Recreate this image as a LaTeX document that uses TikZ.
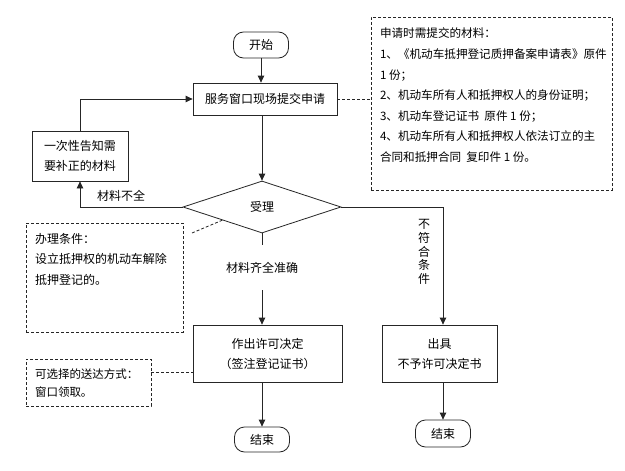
\documentclass[tikz,border=0pt]{standalone}
\usepackage{fontspec}
\setmainfont{Noto Sans CJK SC}
\usetikzlibrary{arrows.meta,shapes.geometric}
\begin{document}
\begin{tikzpicture}[x=1pt,y=-1pt, line width=0.8pt, draw=black!85,
  font=\fontsize{12}{20}\selectfont,
  box/.style={draw, rectangle, inner sep=0pt, align=center},
  term/.style={draw, rounded corners=10pt, minimum width=55pt, minimum height=26pt, inner sep=0pt},
  arr/.style={-{Triangle[length=7pt,width=6.5pt]}},
  note/.style={draw, dash pattern=on 3pt off 2pt, inner sep=0pt},
  ntext/.style={anchor=north west, align=left, inner sep=0pt},
  dline/.style={dash pattern=on 3pt off 2pt}]
\useasboundingbox[fill=white] (0,0) rectangle (625,471);

% terminals and boxes
\node[term] (start) at (261,45) {开始};
\node[box, minimum width=144pt, minimum height=32pt] (svc) at (265,99) {服务窗口现场提交申请};
\node[box, minimum width=96pt, minimum height=50pt] (fix) at (80,156) {一次性告知需\\要补正的材料};
\node[draw, diamond, aspect=3.04, minimum width=158pt, minimum height=52pt, inner sep=0pt] (dec) at (262,207) {受理};
\node[box, minimum width=149pt, minimum height=57pt] (permit) at (267.5,353.5) {作出许可决定\\（签注登记证书）};
\node[box, minimum width=115pt, minimum height=57pt] (deny) at (439.5,353.5) {出具\\不予许可决定书};
\node[term, minimum height=25pt] (end1) at (262,439.5) {结束};
\node[term, minimum height=27pt] (end2) at (443,433.5) {结束};

% labels
\node[inner sep=0pt] (lack) at (121,196) {材料不全};
\node[inner sep=0pt, align=center, font=\fontsize{12}{13.75}\selectfont] (bad) at (424,252) {不\\符\\合\\条\\件};
\node[minimum height=45pt, inner sep=0pt] (ok) at (262,267.5) {材料齐全准确};

% notes
\node[note, minimum width=241pt, minimum height=173pt] (n1) at (491.5,103.5) {};
\node[ntext, font=\fontsize{11.6}{20.6}\selectfont] at ([xshift=9pt,yshift=-11pt]n1.north west)
  {申请时需提交的材料：\\
   1、《机动车抵押登记质押备案申请表》原件\\
   1 份；\\
   2、机动车所有人和抵押权人的身份证明；\\
   3、机动车登记证书 \ 原件 1 份；\\
   4、机动车所有人和抵押权人依法订立的主\\
   合同和抵押合同 \ 复印件 1 份。};

\node[note, minimum width=157pt, minimum height=109pt] (n2) at (104.5,277.5) {};
\node[ntext, font=\fontsize{12}{20.5}\selectfont] at ([xshift=9pt,yshift=-10pt]n2.north west)
  {办理条件：\\设立抵押权的机动车解除\\抵押登记的。};

\node[note, minimum width=125pt, minimum height=47pt] (n3) at (88.5,382.5) {};
\node[ntext, font=\fontsize{11.5}{18}\selectfont] at ([xshift=9pt,yshift=-10pt]n3.north west)
  {可选择的送达方式：\\窗口领取。};

% connectors
\draw[arr] (start.south) -- (start.south |- svc.north);
\draw[arr] (dec.north |- svc.south) -- (dec.north);
\draw[arr] (dec.west) -| (fix.south);
\draw[arr] (fix.north) |- (svc.west);
\draw[arr] (dec.east) -| (deny.north -| end2.north);
\draw (dec.south) -- (ok.north);
\draw[arr] (ok.south) -- (ok.south |- permit.north);
\draw[arr] (end1.north |- permit.south) -- (end1.north);
\draw[arr] (end2.north |- deny.south) -- (end2.north);

% dashed links
\draw[dline] (svc.east) -- (svc.east -| n1.west);
\coordinate (n2c) at (192,233);
\draw[dline] (n2c) -- (dec.south west);
\draw[dline] (n3.east |- 0,372) -- (permit.west |- 0,372);
\end{tikzpicture}
\end{document}
